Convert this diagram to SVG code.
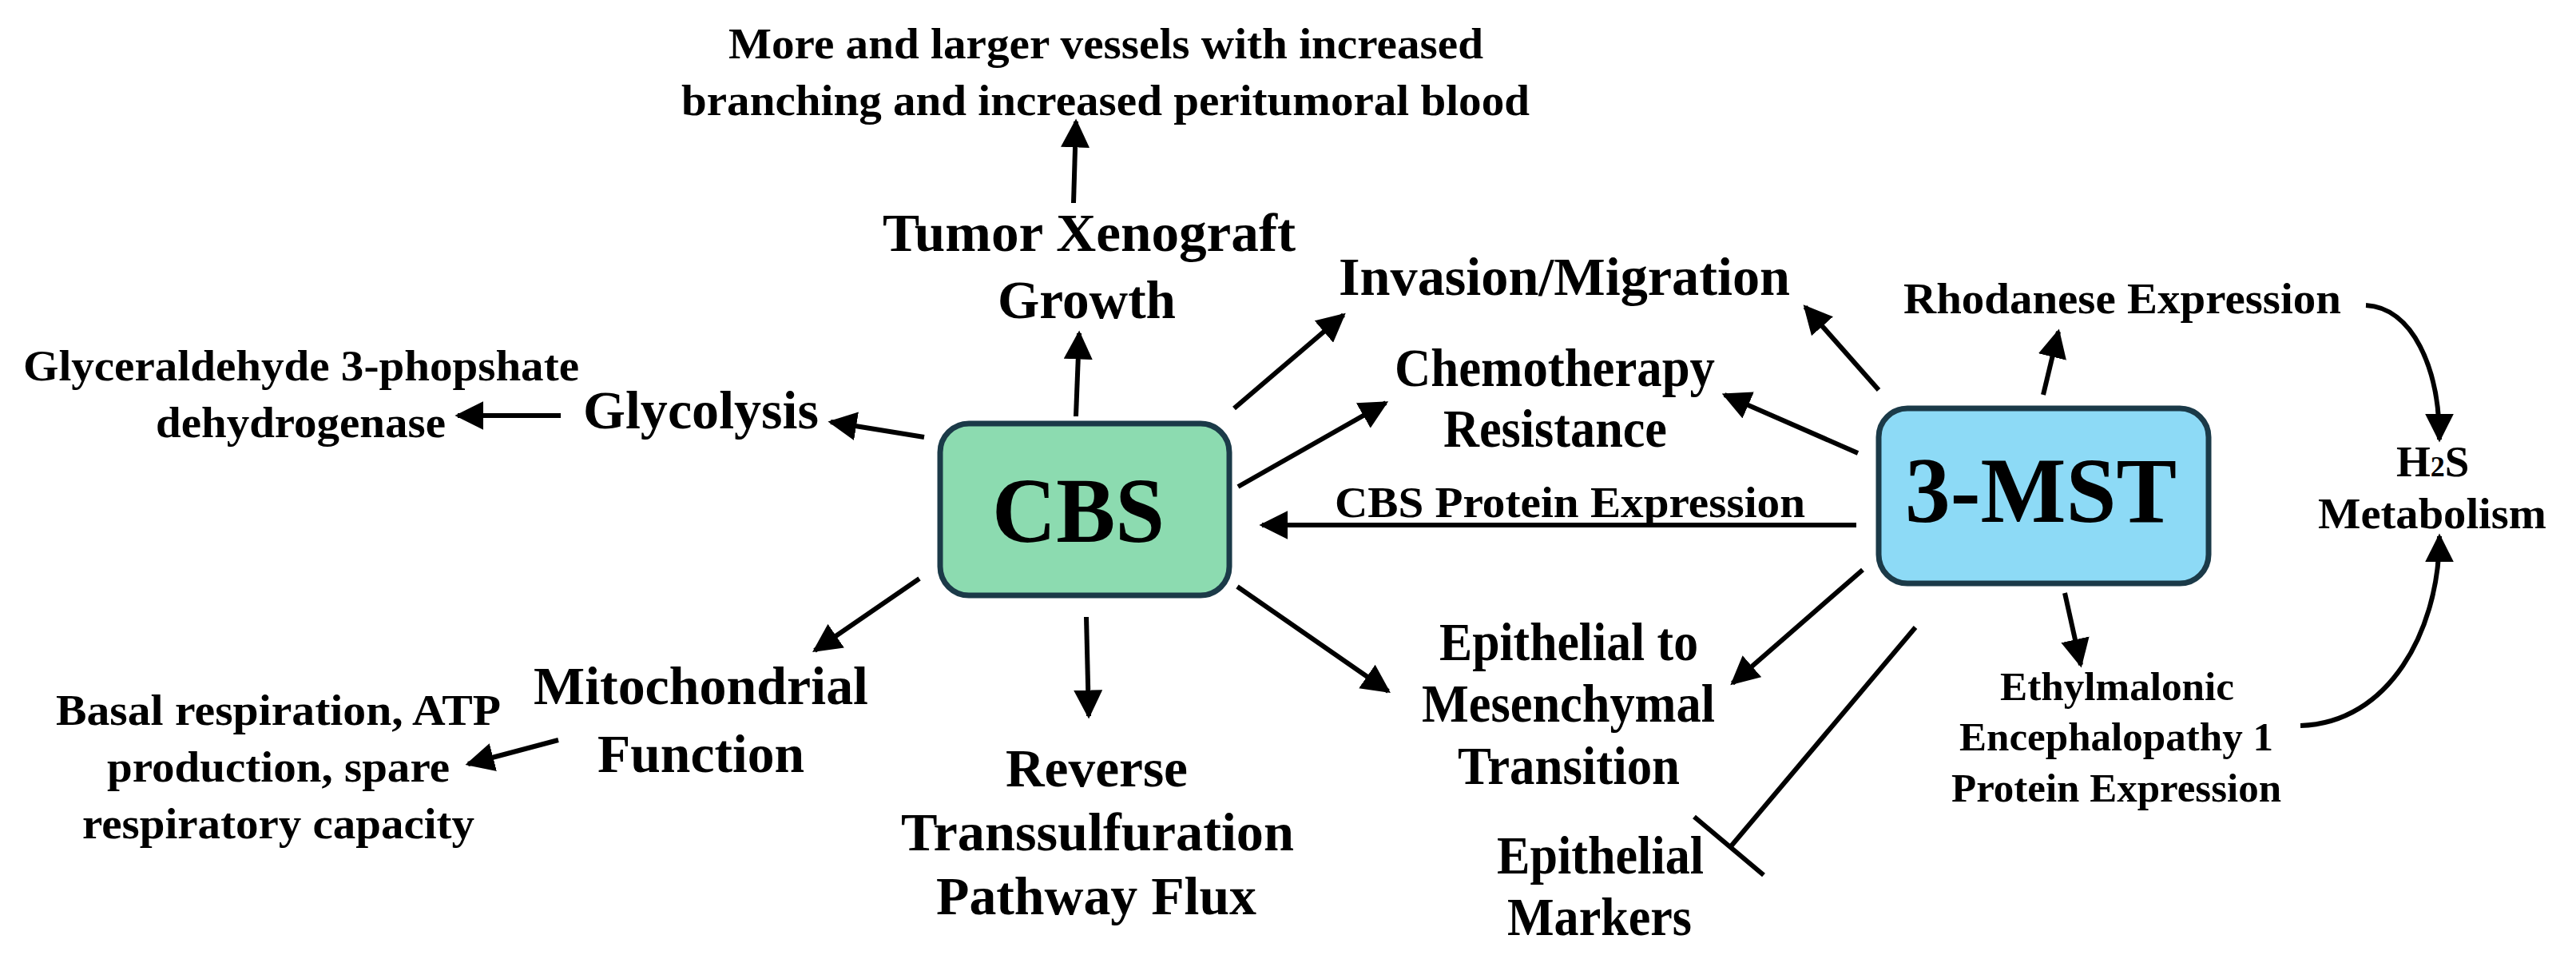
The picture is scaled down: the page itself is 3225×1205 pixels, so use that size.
<svg xmlns="http://www.w3.org/2000/svg" width="3225" height="1205" viewBox="0 0 3225 1205">
<defs>
<marker id="ah" viewBox="0 0 10 10" refX="9" refY="5" markerWidth="6" markerHeight="6" markerUnits="strokeWidth" orient="auto"><path d="M0,0 L10,5 L0,10 z" fill="#000"/></marker>
<style>
text{font-family:"Liberation Serif","Times New Roman",serif;font-weight:bold;fill:#000}
.l{font-size:68px}.m{font-size:55px}.s{font-size:51px}.b{font-size:117px}
.c line,.c path{stroke:#000;stroke-width:6;fill:none}
.a{marker-end:url(#ah)}
</style>
</defs>
<rect width="3225" height="1205" fill="#fff"/>
<g id="cbs"><rect x="1177" y="530" width="362" height="215" rx="36" fill="#8CDBB0" stroke="#1B3A48" stroke-width="7"/><text class="b" x="1242" y="678" textLength="216" lengthAdjust="spacingAndGlyphs">CBS</text></g>
<g id="mst"><rect x="2352" y="511" width="413" height="219" rx="36" fill="#8DDAF6" stroke="#1B3A48" stroke-width="7"/><text class="b" x="2385" y="653" textLength="340" lengthAdjust="spacingAndGlyphs">3-MST</text></g>
<g id="vessels"><text class="m" x="912" y="73" textLength="945" lengthAdjust="spacingAndGlyphs">More and larger vessels with increased</text><text class="m" x="853" y="144" textLength="1062" lengthAdjust="spacingAndGlyphs">branching and increased peritumoral blood</text></g>
<g id="tumor"><text class="l" x="1105" y="314" textLength="517" lengthAdjust="spacingAndGlyphs">Tumor Xenograft</text><text class="l" x="1249" y="398" textLength="223" lengthAdjust="spacingAndGlyphs">Growth</text></g>
<g id="gapdh"><text class="m" x="29" y="476" textLength="696" lengthAdjust="spacingAndGlyphs">Glyceraldehyde 3-phopshate</text><text class="m" x="195" y="547" textLength="363" lengthAdjust="spacingAndGlyphs">dehydrogenase</text></g>
<g id="glycolysis"><text class="l" x="730" y="536" textLength="295" lengthAdjust="spacingAndGlyphs">Glycolysis</text></g>
<g id="mito"><text class="l" x="668" y="881" textLength="419" lengthAdjust="spacingAndGlyphs">Mitochondrial</text><text class="l" x="748" y="966" textLength="259" lengthAdjust="spacingAndGlyphs">Function</text></g>
<g id="basal"><text class="m" x="70" y="907" textLength="557" lengthAdjust="spacingAndGlyphs">Basal respiration, ATP</text><text class="m" x="134" y="978" textLength="429" lengthAdjust="spacingAndGlyphs">production, spare</text><text class="m" x="103" y="1049" textLength="491" lengthAdjust="spacingAndGlyphs">respiratory capacity</text></g>
<g id="reverse"><text class="l" x="1259" y="984" textLength="228" lengthAdjust="spacingAndGlyphs">Reverse</text><text class="l" x="1128" y="1064" textLength="492" lengthAdjust="spacingAndGlyphs">Transsulfuration</text><text class="l" x="1172" y="1144" textLength="401" lengthAdjust="spacingAndGlyphs">Pathway Flux</text></g>
<g id="invasion"><text class="l" x="1676" y="369" textLength="565" lengthAdjust="spacingAndGlyphs">Invasion/Migration</text></g>
<g id="chemo"><text class="l" x="1746" y="483" textLength="401" lengthAdjust="spacingAndGlyphs">Chemotherapy</text><text class="l" x="1807" y="559" textLength="280" lengthAdjust="spacingAndGlyphs">Resistance</text></g>
<g id="emt"><text class="l" x="1802" y="826" textLength="324" lengthAdjust="spacingAndGlyphs">Epithelial to</text><text class="l" x="1780" y="903" textLength="367" lengthAdjust="spacingAndGlyphs">Mesenchymal</text><text class="l" x="1825" y="981" textLength="278" lengthAdjust="spacingAndGlyphs">Transition</text></g>
<g id="markers"><text class="l" x="1874" y="1093" textLength="259" lengthAdjust="spacingAndGlyphs">Epithelial</text><text class="l" x="1887" y="1170" textLength="231" lengthAdjust="spacingAndGlyphs">Markers</text></g>
<g id="rhodanese"><text class="m" x="2383" y="392" textLength="548" lengthAdjust="spacingAndGlyphs">Rhodanese Expression</text></g>
<g id="h2s"><text class="m" x="3000" y="596">H<tspan font-size="36">2</tspan>S</text><text class="m" x="2902" y="661" textLength="286" lengthAdjust="spacingAndGlyphs">Metabolism</text></g>
<g id="ethe1"><text class="s" x="2504" y="876" textLength="293" lengthAdjust="spacingAndGlyphs">Ethylmalonic</text><text class="s" x="2453" y="939" textLength="393" lengthAdjust="spacingAndGlyphs">Encephalopathy 1</text><text class="s" x="2443" y="1003" textLength="413" lengthAdjust="spacingAndGlyphs">Protein Expression</text></g>
<g id="connectors" class="c">
<line class="a" x1="1344" y1="254" x2="1347" y2="152"/>
<line class="a" x1="1347" y1="521" x2="1351" y2="417"/>
<line class="a" x1="702" y1="520" x2="573" y2="520"/>
<line class="a" x1="1157" y1="547" x2="1040" y2="528"/>
<line class="a" x1="1151" y1="724" x2="1020" y2="814"/>
<line class="a" x1="699" y1="926" x2="586" y2="956"/>
<line class="a" x1="1360" y1="772" x2="1363" y2="896"/>
<line class="a" x1="1545" y1="511" x2="1682" y2="394"/>
<line class="a" x1="1550" y1="609" x2="1735" y2="504"/>
<line class="a" x1="1549" y1="734" x2="1738" y2="865"/>
<line class="a" x1="2324" y1="657" x2="1580" y2="657"/>
<text class="m" x="1671" y="647" textLength="589" lengthAdjust="spacingAndGlyphs" style="stroke:none">CBS Protein Expression</text>
<line class="a" x1="2352" y1="488" x2="2260" y2="384"/>
<line class="a" x1="2326" y1="567" x2="2159" y2="494"/>
<line class="a" x1="2558" y1="494" x2="2577" y2="415"/>
<line class="a" x1="2332" y1="713" x2="2169" y2="855"/>
<line class="a" x1="2585" y1="742" x2="2605" y2="832"/>
<line x1="2398" y1="785" x2="2167" y2="1059"/>
<line x1="2121" y1="1022" x2="2208" y2="1095"/>
<path class="a" d="M2962,382 C3020,385 3054,460 3054,550"/>
<path class="a" d="M2880,908 C2990,905 3054,790 3054,671"/>
</g>
</svg>
